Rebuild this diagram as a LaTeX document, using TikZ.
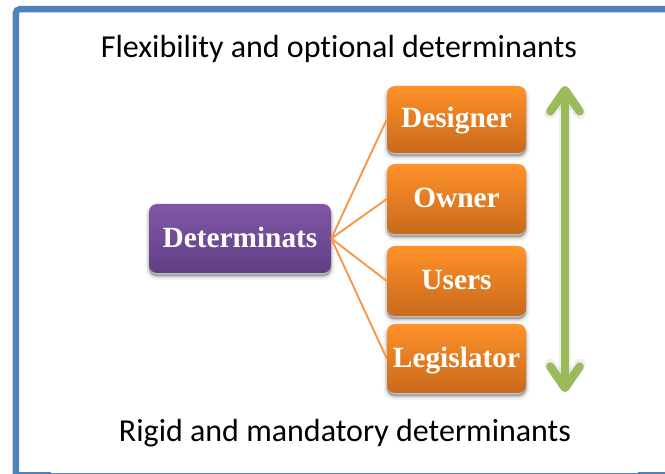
\documentclass[tikz,border=0pt]{standalone}
\usepackage{fontspec}
\setmainfont{Carlito}[RawFeature={-liga}]
\newfontfamily\boxfont{Liberation Serif}[Scale=1]
\usetikzlibrary{arrows.meta}
\definecolor{frameblue}{HTML}{4F81BD}
\definecolor{orangetop}{HTML}{FF9229}
\definecolor{orangebot}{HTML}{C8691C}
\definecolor{purpletop}{HTML}{8257A8}
\definecolor{purplebot}{HTML}{5F3F84}
\definecolor{arrowgreen}{HTML}{9BBB59}
\definecolor{linkorange}{HTML}{F79646}
\tikzset{
  softshadow/.style={
    preaction={draw=black,line width=5.25pt,draw opacity=.05,fill=black,fill opacity=.05,transform canvas={yshift=-2.6pt}},
    preaction={draw=black,line width=3pt,draw opacity=.08,fill=black,fill opacity=.08,transform canvas={yshift=-2.4pt}},
    preaction={draw=black,line width=1pt,draw opacity=.1,fill=black,fill opacity=.1,transform canvas={yshift=-2.2pt}}},
  blockbase/.style={softshadow,rounded corners=6pt,inner sep=0pt,text=white,align=center,
    font=\boxfont\fontsize{22}{26}\selectfont\bfseries,anchor=center,text height=17pt,text depth=4pt},
  orangeblock/.style={blockbase,top color=orangetop,bottom color=orangebot,minimum width=104.25pt},
  purpleblock/.style={blockbase,top color=purpletop,bottom color=purplebot,minimum width=136.5pt,minimum height=51.75pt},
  link/.style={draw=linkorange,line width=1.4pt},
  caption/.style={font=\fontsize{24}{29}\selectfont,text=black,inner sep=0pt},
  bigarrow/.style={draw=arrowgreen,line width=6pt,line cap=round,
    {Straight Barb[round,length=16pt,width=22pt]}-{Straight Barb[round,length=16pt,width=22pt]}},
  arrowshade/.style={draw=black,draw opacity=.06,line width=9pt,line cap=round,
    {Straight Barb[round,length=16pt,width=22pt]}-{Straight Barb[round,length=16pt,width=22pt]}},
  arrowshadecore/.style={draw=black,draw opacity=.14,line width=6.5pt,line cap=round,
    {Straight Barb[round,length=16pt,width=22pt]}-{Straight Barb[round,length=16pt,width=22pt]}},
}
\begin{document}
\begin{tikzpicture}[x=.75pt,y=-.75pt]
\useasboundingbox (0,0) rectangle (665,474);
\fill[white] (0,0) rectangle (665,474);
% frame
\draw[frameblue,line width=4.8pt,rounded corners=3pt] (15.8,474) -- (15.8,9.2) -- (668,9.2);
\fill[frameblue] (12.7,471.5) rectangle (51,474);
\fill[frameblue] (51,472.5) rectangle (638,474);
\fill[frameblue] (638,471.5) rectangle (665,474);
% captions
\node[caption] (top) at (339,49) {Flexibility and optional determinants};
\node[caption] (bottom) at (345,433) {Rigid and mandatory determinants};
% blocks
\node[purpleblock] (root) at (240,238.5) {Determinats};
\node[orangeblock,minimum height=50.25pt,text height=16pt] (designer) at (456.5,119.5) {Designer};
\node[orangeblock,minimum height=52.5pt] (owner) at (456.5,199) {Owner};
\node[orangeblock,minimum height=52.5pt] (users) at (456.5,281) {Users};
\node[orangeblock,minimum height=51.75pt,text height=16pt,text depth=2.5pt] (legislator) at (456.5,358.5) {Legislator};
% links
\foreach \t in {designer,owner,users,legislator}
  \draw[link] (root.east) -- (\t.west);
% double arrow
\coordinate (up) at (565,86);
\coordinate (down) at (565,392);
\begin{scope}[yshift=-3pt]
\draw[arrowshade] (up) -- (down);
\draw[arrowshadecore] (up) -- (down);
\end{scope}
\draw[bigarrow] (up) -- (down);
\end{tikzpicture}
\end{document}
